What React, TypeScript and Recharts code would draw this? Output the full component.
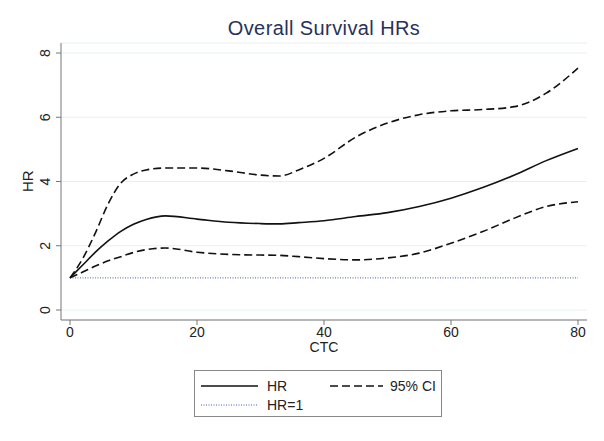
import React from "react";
import { LineChart, Line, XAxis, YAxis, CartesianGrid } from "recharts";

const ctc = [0, 2, 4, 6, 8, 10, 12, 15, 20, 25, 30, 33, 36, 40, 45, 50, 55, 60, 65, 70, 75, 80];
const hr = [1, 1.4, 1.8, 2.15, 2.45, 2.67, 2.82, 2.93, 2.83, 2.73, 2.69, 2.68, 2.72, 2.78, 2.91, 3.03, 3.22, 3.48, 3.81, 4.2, 4.65, 5.03];
const ciHigh = [1, 1.6, 2.4, 3.3, 3.95, 4.23, 4.36, 4.42, 4.42, 4.33, 4.2, 4.17, 4.36, 4.72, 5.38, 5.82, 6.08, 6.2, 6.24, 6.33, 6.75, 7.53];
const ciLow = [1, 1.18, 1.37, 1.53, 1.66, 1.79, 1.88, 1.93, 1.8, 1.73, 1.71, 1.7, 1.66, 1.6, 1.56, 1.62, 1.77, 2.08, 2.44, 2.86, 3.22, 3.37];
const xTicks = [0, 20, 40, 60, 80];
const yTicks = [0, 2, 4, 6, 8];

const data = ctc.map((x, i) => ({ x, hr: hr[i], hi: ciHigh[i], lo: ciLow[i], ref: 1 }));

const font = "'Liberation Sans', Arial, sans-serif";

const YTick = (props: any) => {
  const { x, y, payload } = props;
  return (
    <g transform={`translate(${x},${y}) rotate(-90)`}>
      <text x={0} y={0} textAnchor="middle" fill="#222" fontSize={14} fontFamily={font}>
        {payload.value}
      </text>
    </g>
  );
};

const App = () => {
  return (
    <div style={{ position: "absolute", left: 0, top: 0, width: 604, height: 441, background: "#fff", fontFamily: font }}>
      <div style={{ position: "absolute", left: 61, width: 526, top: 17, textAlign: "center", fontSize: 20, letterSpacing: 0.4, color: "#27325a" }}>
        Overall Survival HRs
      </div>
      <div style={{ position: "absolute", left: 18, top: 172, width: 20, height: 20, fontSize: 15, color: "#222", transform: "rotate(-90deg)", textAlign: "center", lineHeight: "20px" }}>
        HR
      </div>
      <LineChart width={604} height={441} data={data} margin={{ top: 43, right: 17, left: 21, bottom: 81 }}>
        <CartesianGrid vertical={false} stroke="#e6f0f3" />
        <XAxis
          dataKey="x"
          type="number"
          domain={[0, 80]}
          ticks={xTicks}
          padding={{ left: 9, right: 9 }}
          stroke="#777"
          tickSize={5}
          tickMargin={2}
          tick={{ fill: "#222", fontSize: 14, fontFamily: font }}
          height={40}
          label={{ value: "CTC", position: "insideBottom", offset: 8, fill: "#222", fontSize: 14, fontFamily: font }}
        />
        <YAxis
          type="number"
          domain={[0, 8]}
          ticks={yTicks}
          padding={{ top: 10, bottom: 10 }}
          stroke="#777"
          tickSize={5}
          tickMargin={6}
          tick={<YTick />}
          width={40}
        />
        <Line dataKey="ref" stroke="#4a5db5" strokeWidth={1} strokeDasharray="1 1.5" dot={false} isAnimationActive={false} />
        <Line dataKey="hi" type="monotone" stroke="#111" strokeWidth={1.6} strokeDasharray="8 4" dot={false} isAnimationActive={false} />
        <Line dataKey="lo" type="monotone" stroke="#111" strokeWidth={1.6} strokeDasharray="8 4" dot={false} isAnimationActive={false} />
        <Line dataKey="hr" type="monotone" stroke="#111" strokeWidth={1.6} dot={false} isAnimationActive={false} />
      </LineChart>
      <div style={{ position: "absolute", left: 194, top: 370, width: 248, height: 47, border: "1px solid #888", boxSizing: "border-box", fontSize: 14, color: "#222" }}>
        <svg width={248} height={47} style={{ position: "absolute", left: 0, top: 0 }}>
          <line x1={6} x2={63} y1={15} y2={15} stroke="#111" strokeWidth={1.6} />
          <line x1={135} x2={188} y1={15} y2={15} stroke="#111" strokeWidth={1.6} strokeDasharray="8 4" />
          <line x1={6} x2={63} y1={34} y2={34} stroke="#4a5db5" strokeWidth={1} strokeDasharray="1 1.5" />
          <text x={72} y={20} fontSize={14} fill="#222" fontFamily={font}>HR</text>
          <text x={195} y={20} fontSize={14} fill="#222" fontFamily={font}>95% CI</text>
          <text x={72} y={39} fontSize={14} fill="#222" fontFamily={font}>HR=1</text>
        </svg>
      </div>
    </div>
  );
};

export default App;
